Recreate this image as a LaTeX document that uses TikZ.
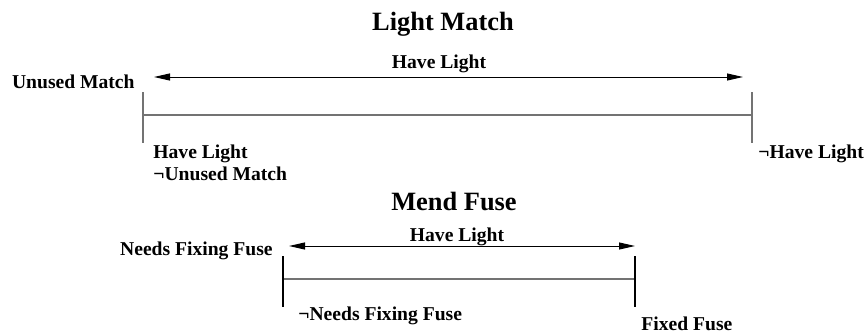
\documentclass[tikz,border=0pt]{standalone}
\usepackage{fontspec}
\setmainfont{Liberation Serif}
\usetikzlibrary{positioning,arrows.meta}

\tikzset{
  lbl/.style={inner sep=0pt, font=\fontsize{9.8}{11.8}\selectfont\bfseries},
  ttl/.style={inner sep=0pt, font=\fontsize{13.2}{15}\selectfont\bfseries},
  effect/.style={line width=0.5pt, {Triangle[length=8pt,width=3.5pt]}-{Triangle[length=8pt,width=3.5pt]}},
  span/.style={line width=0.6pt, draw=black!55},
}

\begin{document}
\begin{tikzpicture}[x=0.5pt,y=-0.5pt]
            \useasboundingbox (0,0) rectangle (867,332);

            % light match
            \draw (443,30.5) node [ttl, anchor=base] (lm title) {Light Match};
            \draw (439,68) node [lbl, anchor=base] (lm eff) {Have Light};
            \draw (135,88.5) node [lbl, anchor=base east] (lm pre) {Unused Match};
            \draw (153,158.5) node [lbl, anchor=base west] (lm post 1) {Have Light};
            \draw (153,180.5) node [lbl, anchor=base west] (lm post 2) {¬Unused Match};
            \draw (758,158.5) node [lbl, anchor=base west] (lm end) {¬Have Light};
            \coordinate (lm a1) at (154,77);
            \coordinate (lm a2) at (743,77);
            \coordinate (lm s) at (143,115);
            \coordinate (lm e) at (752,115);

            \draw[effect] (lm a1) -- (lm a2);
            \draw[span] (lm s) -- (lm e);
            \draw[span] ([yshift=11.5pt]lm s) -- ([yshift=-14pt]lm s);
            \draw[span] ([yshift=11.5pt]lm e) -- ([yshift=-14pt]lm e);

            % mend fuse
            \draw (454,210) node [ttl, anchor=base] (mf title) {Mend Fuse};
            \draw (457,241) node [lbl, anchor=base] (mf eff) {Have Light};
            \draw (273,255) node [lbl, anchor=base east] (mf pre) {Needs Fixing Fuse};
            \draw (298,320) node [lbl, anchor=base west] (mf post) {¬Needs Fixing Fuse};
            \draw (641,330) node [lbl, anchor=base west] (mf end) {Fixed Fuse};
            \coordinate (mf a1) at (289,246);
            \coordinate (mf a2) at (635,246);
            \coordinate (mf s) at (283,279);
            \coordinate (mf e) at (635,279);

            \draw[effect] (mf a1) -- (mf a2);
            \draw[span] (mf s) -- (mf e);
            \draw[line width=0.6pt] ([yshift=11.5pt]mf s) -- ([yshift=-14pt]mf s);
            \draw[line width=0.6pt] ([yshift=11.5pt]mf e) -- ([yshift=-14pt]mf e);
        \end{tikzpicture}
\end{document}
